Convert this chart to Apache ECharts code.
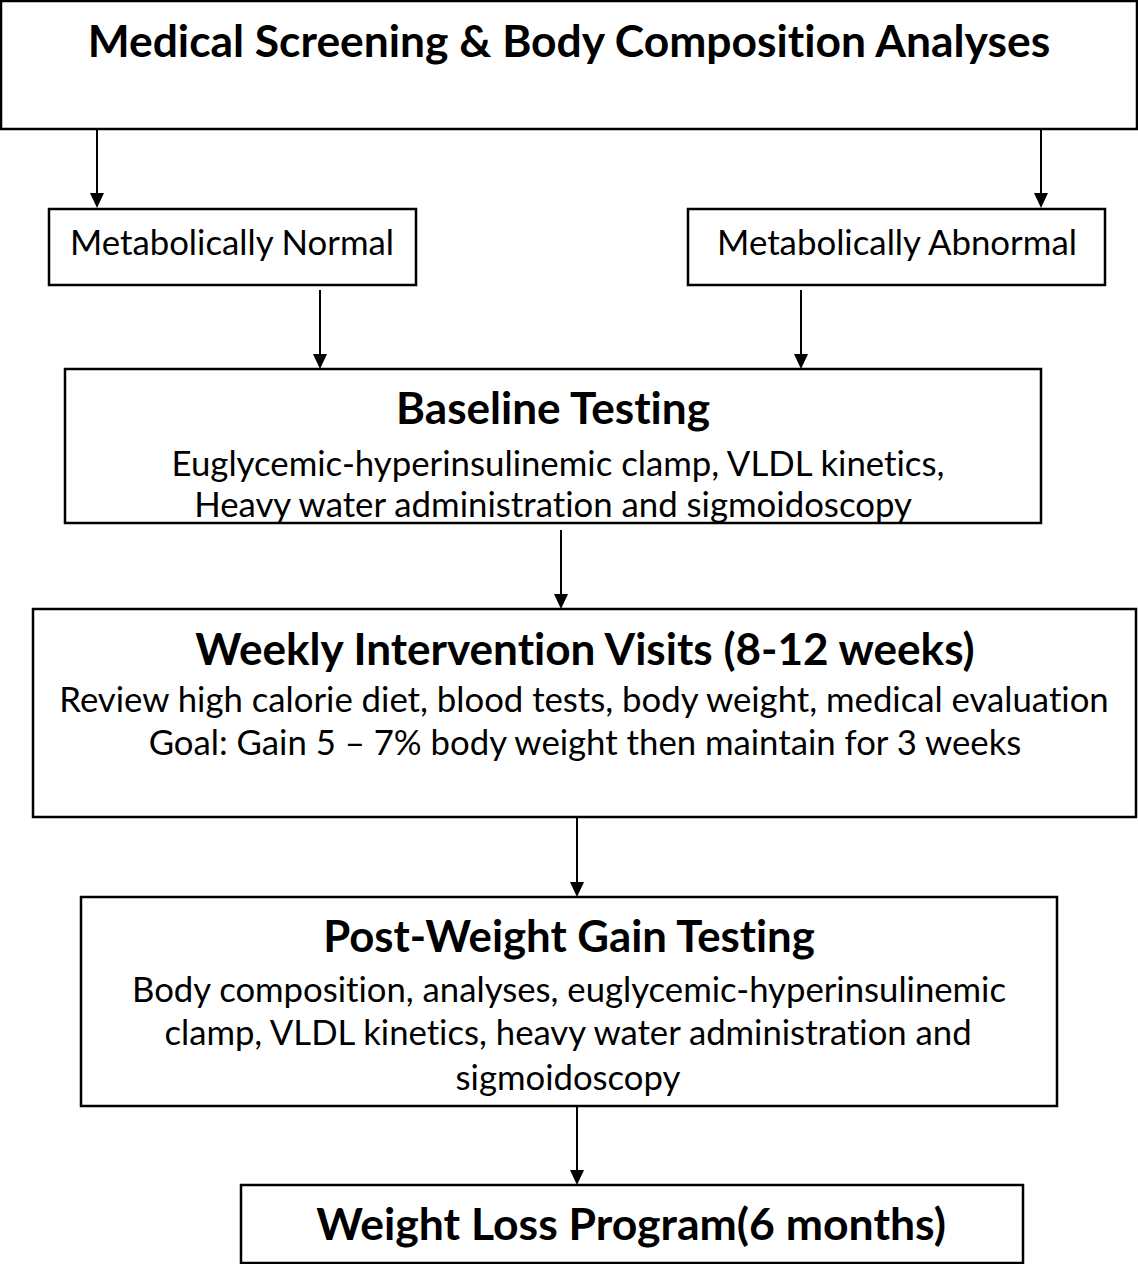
<!DOCTYPE html>
<html><head><meta charset="utf-8">
<script src="https://cdn.jsdelivr.net/npm/echarts@6/dist/echarts.min.js"></script>
<style>
html,body{margin:0;padding:0;background:#fff}
#c{width:1138px;height:1264px}
#c svg text{font-variant-ligatures:none;font-feature-settings:"liga" 0,"clig" 0,"calt" 0,"dlig" 0;}
</style>
</head><body><div id="c"></div>
<script>
// ---- content ----
const stepTitles = [
  "Medical Screening & Body Composition Analyses",
  "Metabolically Normal",
  "Metabolically Abnormal",
  "Baseline Testing",
  "Weekly Intervention Visits (8-12 weeks)",
  "Post-Weight Gain Testing",
  "Weight Loss Program(6 months)"
];
const stepDetails = [
  [],
  [],
  [],
  ["Euglycemic-hyperinsulinemic clamp, VLDL kinetics,",
   "Heavy water administration and sigmoidoscopy"],
  ["Review high calorie diet, blood tests, body weight, medical evaluation",
   "Goal: Gain 5 \u2013 7% body weight then maintain for 3 weeks"],
  ["Body composition, analyses, euglycemic-hyperinsulinemic",
   "clamp, VLDL kinetics, heavy water administration and",
   "sigmoidoscopy"],
  []
];
const flowLinks = [[0,1],[0,2],[1,3],[2,3],[3,4],[4,5],[5,6]];

// ---- layout (pixel space; tb/db = text baselines, tw/dw = target widths) ----
const boxLayout = [
  {x0:1,  y0:1,   x1:1137, y1:129,  bold:true,  cx:569, tb:57,   tw:966, db:[],              dw:0},
  {x0:49, y0:209, x1:416,  y1:285,  bold:false, cx:232, tb:255,  tw:325, db:[],              dw:0},
  {x0:688,y0:209, x1:1105, y1:285,  bold:false, cx:897, tb:255,  tw:362, db:[],              dw:0},
  {x0:65, y0:369, x1:1041, y1:523,  bold:true,  cx:553, tb:424,  tw:316, db:[476,517],       dw:776, dcx:[558,553]},
  {x0:33, y0:609, x1:1136, y1:817,  bold:true,  cx:585, tb:665,  tw:784, db:[712,755],       dw:1053, dcx:[584,585]},
  {x0:81, y0:897, x1:1057, y1:1106, bold:true,  cx:569, tb:952,  tw:494, db:[1002,1045,1090], dw:876, dcx:[569,568,568]},
  {x0:241,y0:1185,x1:1023, y1:1263, bold:true,  cx:631, tb:1240, tw:630, db:[],              dw:0}
];
const arrowLayout = [
  {x:97,  y0:129,  y1:208},
  {x:1041,y0:129,  y1:208},
  {x:320, y0:290,  y1:369},
  {x:801, y0:290,  y1:369},
  {x:561, y0:530,  y1:609},
  {x:577, y0:817,  y1:897},
  {x:577, y0:1106, y1:1185}
];
const FONT = 'Lato, "Open Sans", sans-serif';
const measureCtx = document.createElement('canvas').getContext('2d');
function fitSize(text, weight, target) {
  measureCtx.font = weight + ' 100px ' + FONT;
  return 100 * target / measureCtx.measureText(text).width;
}
// offset from alphabetic baseline to the "central" baseline used for middle alignment
function centralOffset(text, weight, size) {
  measureCtx.font = weight + ' ' + size + 'px ' + FONT;
  measureCtx.textBaseline = 'alphabetic';
  const m = measureCtx.measureText(text);
  const asc = m.fontBoundingBoxAscent != null ? m.fontBoundingBoxAscent : 0.987 * size;
  const desc = m.fontBoundingBoxDescent != null ? m.fontBoundingBoxDescent : 0.213 * size;
  return (asc - desc) / 2;
}

const chart = echarts.init(document.getElementById('c'), null, {renderer:'svg'});

function textEl(api, text, weight, size, cx, baseline) {
  const p = api.coord([cx, baseline]);
  return {type:'text', x:p[0], y:p[1] - centralOffset(text, weight, size), style:{
    text, fontFamily:FONT, fontWeight:weight, fontSize:size,
    fill:'#000', align:'center', verticalAlign:'middle'}};
}

function renderBox(params, api) {
  const i = api.value(0);
  const b = boxLayout[i];
  const p0 = api.coord([b.x0, b.y0]);
  const p1 = api.coord([b.x1, b.y1]);
  const children = [{
    type:'rect',
    shape:{x:p0[0], y:p0[1], width:p1[0]-p0[0], height:p1[1]-p0[1]},
    style:{fill:'#fff', stroke:'#000', lineWidth:2.5}
  }];
  const tw = b.bold ? 'bold' : 'normal';
  const tSize = fitSize(stepTitles[i], tw, b.tw);
  children.push(textEl(api, stepTitles[i], tw, tSize, b.cx, b.tb));
  const det = stepDetails[i];
  if (det.length) {
    const dSize = fitSize(det[0], 'normal', b.dw);
    det.forEach((line, k) => {
      children.push(textEl(api, line, 'normal', dSize, b.dcx[k], b.db[k]));
    });
  }
  return {type:'group', children};
}

function renderArrow(params, api) {
  const a = arrowLayout[api.value(0)];
  const top = api.coord([a.x, a.y0]);
  const tip = api.coord([a.x, a.y1]);
  const headH = 15, headW = 7;
  return {type:'group', children:[
    {type:'line', shape:{x1:top[0], y1:top[1], x2:tip[0], y2:tip[1]-headH+1},
     style:{stroke:'#000', lineWidth:2}},
    {type:'polygon', shape:{points:[[tip[0]-headW, tip[1]-headH],[tip[0]+headW, tip[1]-headH],[tip[0], tip[1]]]},
     style:{fill:'#000'}}
  ]};
}

chart.setOption({
  animation:false,
  backgroundColor:'#fff',
  grid:{left:0, right:0, top:0, bottom:0},
  xAxis:{type:'value', min:0, max:1138, show:false},
  yAxis:{type:'value', min:0, max:1264, inverse:true, show:false},
  series:[
    {type:'custom', coordinateSystem:'cartesian2d', renderItem:renderArrow,
     data:flowLinks.map((l, k) => [k, l[0], l[1]]), silent:true, z:1},
    {type:'custom', coordinateSystem:'cartesian2d', renderItem:renderBox,
     data:stepTitles.map((t, i) => [i]), silent:true, z:2}
  ]
});
</script></body></html>
